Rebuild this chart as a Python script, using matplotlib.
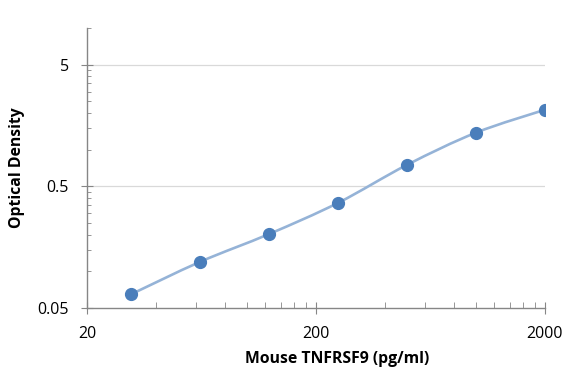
import numpy as np
import matplotlib
matplotlib.use("Agg")
import matplotlib.pyplot as plt
from matplotlib.path import Path
from matplotlib.patches import PathPatch
from matplotlib.ticker import FixedLocator, NullFormatter

# standard curve values
conc = [31.25, 62.5, 125, 250, 500, 1000, 2000]
od = [0.065, 0.120, 0.203, 0.366, 0.751, 1.38, 2.13]
x_ticks = [20, 200, 2000]
y_ticks = [0.05, 0.5, 5]
x_tick_labels = ["20", "200", "2000"]
y_tick_labels = ["0.05", "0.5", "5"]

plt.rcParams["font.family"] = ["Open Sans", "DejaVu Sans"]
axis_grey = "#868686"
dot_blue = "#4a7ebb"
line_blue = "#95b3d7"

fig = plt.figure(figsize=(5.75, 3.78), dpi=100)
ax = fig.add_axes([0.1513, 0.1852, 0.7965, 0.7407])
ax.set_xscale("log")
ax.set_yscale("log")
ax.set_xlim(20, 2000)
ax.set_ylim(0.05, 10)


def smooth_path(xs, ys, t=0.5 / 3):
    # excel-like smoothed line: cubic bezier through the points, built in log space
    lx = np.log10(xs)
    ly = np.log10(ys)
    n = len(lx)
    verts = [(lx[0], ly[0])]
    codes = [Path.MOVETO]
    for i in range(n - 1):
        p0 = i - 1 if i > 0 else i
        p3 = i + 2 if i + 2 < n else i + 1
        c1 = (lx[i] + (lx[i + 1] - lx[p0]) * t, ly[i] + (ly[i + 1] - ly[p0]) * t)
        c2 = (lx[i + 1] - (lx[p3] - lx[i]) * t, ly[i + 1] - (ly[p3] - ly[i]) * t)
        verts += [c1, c2, (lx[i + 1], ly[i + 1])]
        codes += [Path.CURVE4] * 3
    verts = 10 ** np.array(verts)
    return Path(verts, codes)


ax.add_patch(PathPatch(smooth_path(conc, od), facecolor="none",
                       edgecolor=line_blue, lw=1.9, zorder=3))
ax.plot(conc, od, "o", color=dot_blue, ms=8.5, zorder=4)

# grid lines on the major y values
for yv in y_ticks[1:]:
    ax.axhline(yv, color="#d9d9d9", lw=0.9, zorder=1)

for s in ["top", "right"]:
    ax.spines[s].set_visible(False)
for s in ["left", "bottom"]:
    ax.spines[s].set_color(axis_grey)
    ax.spines[s].set_linewidth(1.0)

ax.xaxis.set_major_locator(FixedLocator(x_ticks))
ax.xaxis.set_minor_locator(FixedLocator([20 * k for k in range(2, 10)] + [200 * k for k in range(2, 10)]))
ax.yaxis.set_major_locator(FixedLocator(y_ticks))
ax.yaxis.set_minor_locator(FixedLocator([0.05 * k for k in range(2, 10)] + [0.5 * k for k in range(2, 10)] + [10]))
ax.set_xticklabels(x_tick_labels)
ax.set_yticklabels(y_tick_labels)
ax.xaxis.set_minor_formatter(NullFormatter())
ax.yaxis.set_minor_formatter(NullFormatter())

ax.tick_params(axis="x", which="major", direction="inout", length=8, color=axis_grey,
               labelsize=11.5, pad=9, labelcolor="black")
ax.tick_params(axis="x", which="minor", direction="in", length=4, color=axis_grey)
ax.tick_params(axis="y", which="major", direction="inout", length=8, color=axis_grey,
               labelsize=11.5, pad=9, labelcolor="black")
ax.tick_params(axis="y", which="minor", direction="in", length=3, color=axis_grey)

ax.set_xlabel("Mouse TNFRSF9 (pg/ml)", fontsize=11.3, fontweight="bold")
ax.set_ylabel("Optical Density", fontsize=11.3, fontweight="bold")
ax.xaxis.set_label_coords(0.547, -0.153)
ax.yaxis.set_label_coords(-0.152, 0.5)
ax.xaxis.label.set_va("top")
ax.yaxis.label.set_va("center")

fig.savefig("out.png", dpi=100)
